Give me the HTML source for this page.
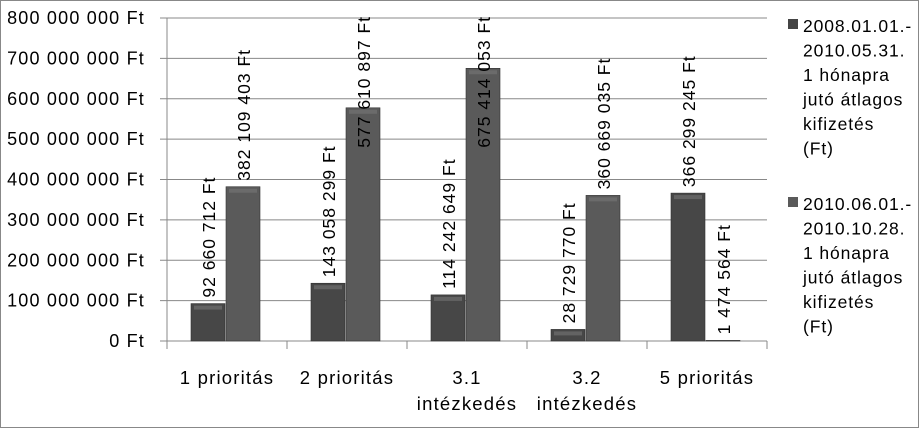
<!DOCTYPE html>
<html><head><meta charset="utf-8"><style>
body{margin:0;background:#fff}
svg{display:block;font-family:"Liberation Sans",sans-serif}
</style></head><body>
<svg id="c" width="920" height="429">
<rect x="0.5" y="0.5" width="918" height="427" fill="#fff" stroke="#888"/>
<g id="grid"></g><g id="bars"></g><g id="labels"></g>
<g font-size="17.5" letter-spacing="0.9" fill="#000">
<rect x="788" y="19" width="10" height="10" fill="#444"/>
<text x="803" y="32"><tspan x="803">2008.01.01.-</tspan><tspan x="803" dy="24.5">2010.05.31.</tspan><tspan x="803" dy="24.5">1 hónapra</tspan><tspan x="803" dy="24.5">jutó átlagos</tspan><tspan x="803" dy="24.5">kifizetés</tspan><tspan x="803" dy="24.5">(Ft)</tspan></text>
<rect x="788" y="197" width="10" height="10" fill="#5a5a5a"/>
<text x="803" y="210"><tspan x="803">2010.06.01.-</tspan><tspan x="803" dy="24.5">2010.10.28.</tspan><tspan x="803" dy="24.5">1 hónapra</tspan><tspan x="803" dy="24.5">jutó átlagos</tspan><tspan x="803" dy="24.5">kifizetés</tspan><tspan x="803" dy="24.5">(Ft)</tspan></text>
</g>
</svg>
<script>
const categories=[["1 prioritás"],["2 prioritás"],["3.1","intézkedés"],["3.2","intézkedés"],["5 prioritás"]];
const series1=[92660712,143058299,114242649,28729770,366299245];
const series2=[382109403,577610897,675414053,360669035,1474564];
const yTicks=[0,100000000,200000000,300000000,400000000,500000000,600000000,700000000,800000000];
const NS="http://www.w3.org/2000/svg";
const x0=167,cw=120,y0=341,ymax=800000000,ph=323;
const y=v=>y0-v/ymax*ph;
const fmt=v=>String(v).replace(/\B(?=(\d{3})+(?!\d))/g," ")+" Ft";
function mk(t,a,p){const e=document.createElementNS(NS,t);for(const k in a)e.setAttribute(k,a[k]);p.appendChild(e);return e;}
const G=document.getElementById('grid'),B=document.getElementById('bars'),L=document.getElementById('labels');
yTicks.forEach((t,i)=>{
 const l=mk('line',{x1:160,x2:767,y1:y(t),y2:y(t),stroke:'#888'},G);
 
 
 const tx=mk('text',{x:145,y:y(t)+6,'text-anchor':'end','font-size':18,'letter-spacing':1.2},G);tx.textContent=fmt(t);
 
 
});
mk('line',{x1:167,x2:167,y1:18,y2:341,stroke:'#888'},G);
for(let i=0;i<=5;i++){const l=mk('line',{x1:x0+i*cw,x2:x0+i*cw,y1:341,y2:349,stroke:'#888'},G);
 
 }
categories.forEach((c,i)=>{
 const cx=x0+i*cw+cw/2;
 c.forEach((s,j)=>{const t=mk('text',{x:cx,y:384+j*26,'text-anchor':'middle','font-size':18.5,'letter-spacing':1.2},G);t.textContent=s;
 
 });
 [[series1,'#474747',-1],[series2,'#5a5a5a',0]].forEach(([s,col,off],k)=>{
  const bx=cx+off*34-(k?1:2),w=34,top=y(s[i]),h=y0-top;
  const r=mk('rect',{x:bx,y:top,width:w,height:Math.max(h,0.5),fill:col,stroke:'#333','stroke-width':0.6},B);
  
  
  if(h>8){mk('rect',{x:bx+3,y:top+2,width:w-6,height:4,fill:'#777',opacity:0.6},B);}
  const lx=bx+w/2+7;
  const t=mk('text',{x:lx,y:0,'font-size':17.5,'letter-spacing':1},L);t.textContent=fmt(s[i]);
  
  
  const len=t.getComputedTextLength()+(fmt(s[i]).length)*1;
  let ly=top-6;
  if(ly-len<2) ly=2+len;
  t.setAttribute('y',ly);
  t.setAttribute('transform',`rotate(-90 ${lx} ${ly})`);
 });
});
</script>
</body></html>
